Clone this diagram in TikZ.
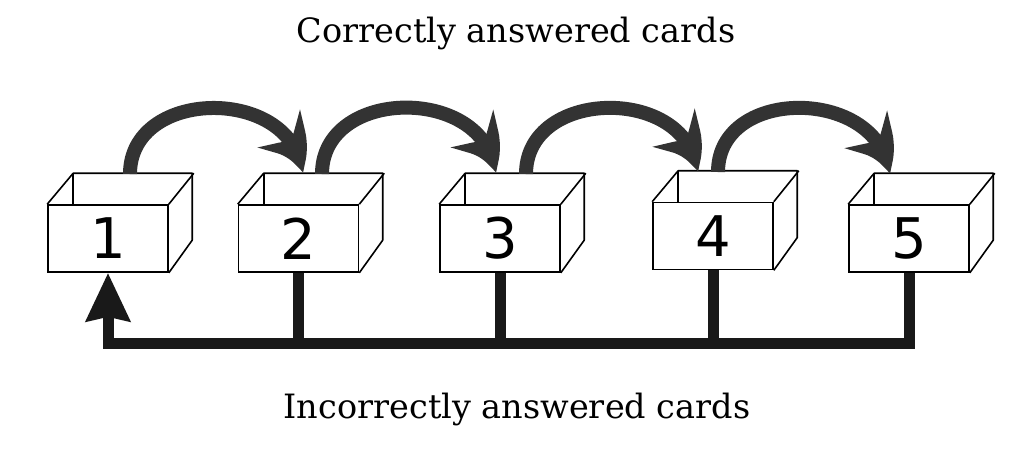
\documentclass[tikz,border=0pt]{standalone}
\usepackage{fontspec}
\setmainfont{DejaVu Serif}
\newfontfamily\digitfont{DejaVu Sans}
\usetikzlibrary{arrows.meta,bending}

\begin{document}
\begin{tikzpicture}[x=1pt,y=-1pt,
  cardfront/.style={draw,fill=white,line width=1.6pt,minimum width=120pt,
    minimum height=67pt,inner sep=0pt,font=\digitfont\fontsize{56}{56}\selectfont},
  boxline/.style={line width=1.6pt,line join=round},
  correct/.style={line width=14pt,draw=black!80,
    -{Stealth[length=54pt,width=54pt,inset=18pt,fill=black!80,bend]}},
  incorrect/.style={line width=11pt,draw=black!90},
  caption/.style={font=\fontsize{33.5}{33.5}\selectfont,anchor=base}]
\useasboundingbox (0,0) rectangle (1024,451);
% the five boxes
\foreach \i/\x/\y in {1/108/238.5,2/298.5/238.5,3/500/238.5,4/713/236,5/909/238.5}{
  \node[cardfront] (b\i) at (\x,\y) {\i};
  \draw[boxline] (b\i.north west) -- ++(26,-31) coordinate (back\i)
    -- ++(119,0) -- ++(0,67) -- (b\i.south east);
  \draw[boxline] (b\i.north east) -- ++(25,-31);
  \draw[boxline] (back\i) -- ++(0,31);
}
% where the arcs leave and land
\coordinate (out1) at (130,174);
\coordinate (in2) at (302,173);
\coordinate (out2) at (322,174);
\coordinate (in3) at (495,173);
\coordinate (out3) at (526,174);
\coordinate (in4) at (697,172);
\coordinate (out4) at (718,172);
\coordinate (in5) at (889,174);
\draw[correct] (out1) to[out=90,in=95,looseness=1.3] (in2);
\draw[correct] (out2) to[out=90,in=95,looseness=1.3] (in3);
\draw[correct] (out3) to[out=90,in=95,looseness=1.3] (in4);
\draw[correct] (out4) to[out=90,in=95,looseness=1.3] (in5);
% back to box 1
\coordinate (rail) at (0,343);
\draw[incorrect,-{Stealth[length=48pt,width=43pt,inset=4pt]}]
  (b5.south) -- (b5.south |- rail) -| (b1.south);
\foreach \i in {2,3,4}
  \draw[incorrect] (b\i.south) -- (b\i.south |- rail);
\node[caption] (top) at (516,42) {Correctly answered cards};
\node[caption] (bottom) at (517,418) {Incorrectly answered cards};
\end{tikzpicture}
\end{document}
